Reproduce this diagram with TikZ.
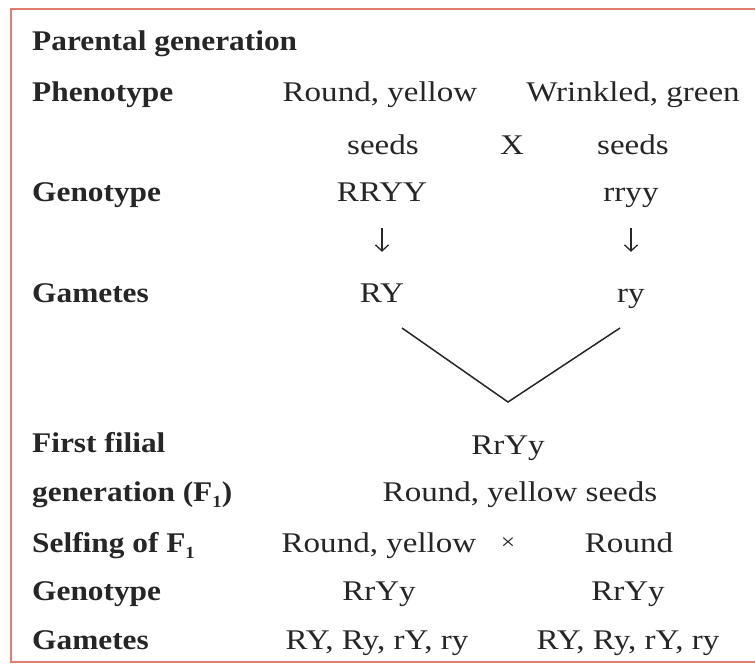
\documentclass[tikz,border=0pt]{standalone}
\usepackage{fontspec}
\setmainfont{Liberation Serif}[UprightFeatures={FakeStretch=1.16}, BoldFeatures={FakeStretch=1.10}]
\usepackage{tikz}
\usetikzlibrary{arrows.meta, positioning}
\definecolor{frame}{RGB}{226,126,112}
\definecolor{ink}{RGB}{38,38,38}
\newcommand{\diagfont}{\fontsize{28.5pt}{34pt}\selectfont}
\newcommand{\lowsub}[1]{\raisebox{-6pt}{\fontsize{17pt}{20pt}\selectfont #1}}
\tikzstyle{heading} = [anchor=base west, font=\diagfont\bfseries, text=ink, text height=19pt, text depth=6pt, inner sep=0pt]
\tikzstyle{entry} = [anchor=base, font=\diagfont, text=ink, text height=19pt, text depth=6pt, inner sep=0pt]
\tikzstyle{arrow} = [line width=1.3pt, draw=ink, -{Straight Barb[length=6pt, width=13pt]}]
\tikzstyle{mating} = [line width=1.5pt, draw=ink]

\begin{document}
\begin{tikzpicture}[x=1pt, y=-1pt]
        \useasboundingbox (0,0) rectangle (755,666);
        \fill[white] (0,0) rectangle (755,666);
        \draw[frame, line width=2.5pt] (760,9) -- (11,9) -- (11,662) -- (760,662);

        % row headings
        \node (parental) [heading] at (32,51) {Parental generation};
        \node (phenolbl) [heading] at (32,102) {Phenotype};
        \node (genolbl) [heading] at (32,201) {Genotype};
        \node (gamlbl) [heading] at (32,302) {Gametes};
        \node (filial) [heading] at (32,452) {First filial};
        \node (filialgen) [heading] at (32,501) {generation (F\lowsub{1})};
        \node (selfing) [heading] at (32,552) {Selfing of F\lowsub{1}};
        \node (genolblb) [heading] at (32,600) {Genotype};
        \node (gamlblb) [heading] at (32,649) {Gametes};

        % parents
        \node (roundyellow) [entry] at (380,102) {Round, yellow};
        \node (wrinkled) [entry] at (633,102) {Wrinkled, green};
        \node (seedsl) [entry] at (383,154) {seeds};
        \node (crossp) [entry] at (512,154) {X};
        \node (seedsr) [entry] at (633,154) {seeds};
        \node (RRYY) [entry] at (382,201) {RRYY};
        \node (rryy) [entry] at (631,201) {rryy};
        \node (RY) [entry] at (382,302) {RY};
        \node (ry) [entry] at (631,302) {ry};

        % F1
        \coordinate (vleft) at (402,328);
        \coordinate (vmid) at (508,402);
        \coordinate (vright) at (620,328);
        \node (hybrid) [entry] at (508,454) {RrYy};
        \node (hybridpheno) [entry] at (520,501) {Round, yellow seeds};

        % selfing
        \node (selfl) [entry] at (379,552) {Round, yellow};
        \node (crossf) [entry, font=\fontsize{22pt}{26pt}\selectfont] at (508,549) {×};
        \node (selfr) [entry] at (629,552) {Round};
        \node (genol) [entry] at (379,600) {RrYy};
        \node (genor) [entry] at (628,600) {RrYy};
        \node (gaml) [entry] at (377,649) {RY, Ry, rY, ry};
        \node (gamr) [entry] at (628,649) {RY, Ry, rY, ry};

        \draw [arrow, shorten <=21pt, shorten >=31pt] (RRYY) -- (RY);
        \draw [arrow, shorten <=21pt, shorten >=31pt] (rryy) -- (ry);
        \draw [mating] (vleft) -- (vmid) -- (vright);
\end{tikzpicture}
\end{document}
